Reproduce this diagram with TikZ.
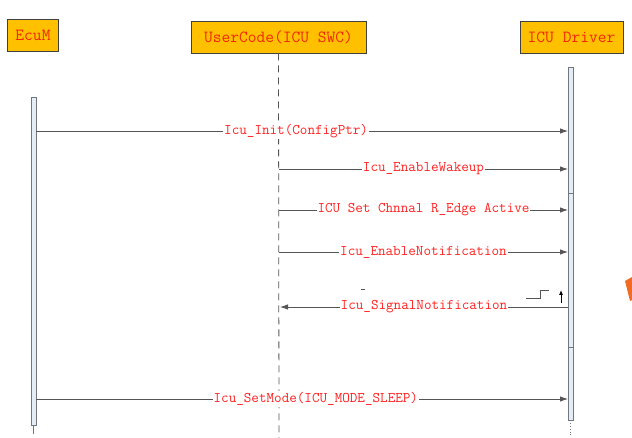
\documentclass[tikz,border=0pt]{standalone}
\usepackage{fontspec}
\usetikzlibrary{arrows.meta}
\definecolor{boxfill}{HTML}{FFC000}
\definecolor{boxtext}{HTML}{F02800}
\definecolor{lbltext}{HTML}{FF2020}
\definecolor{linegray}{HTML}{555555}
\definecolor{barfill}{HTML}{E6ECF4}
\definecolor{bardraw}{HTML}{707780}
\definecolor{orangeshape}{HTML}{F26B22}
\begin{document}
\begin{tikzpicture}[x=1pt,y=-1pt,
  actor/.style={draw=black!75, line width=0.7pt, fill=boxfill, text=boxtext,
    font=\fontsize{17}{17}\selectfont\ttfamily, inner sep=0pt, minimum height=32pt},
  actbar/.style={draw=bardraw, line width=0.8pt, fill=barfill, minimum width=5pt, inner sep=0pt},
  msg/.style={draw=linegray, line width=0.8pt},
  arr/.style={msg, -{Latex[length=8pt,width=5.5pt]}},
  lbl/.style={fill=white, text=lbltext, inner sep=1pt,
    font=\fontsize{14.7}{15}\selectfont\ttfamily}]
\useasboundingbox (0,0) rectangle (632,438);

% actors
\node[actor, minimum width=51pt] (ecum) at (33,35.5) {EcuM};
\node[actor, minimum width=175pt] (user) at (278.5,37) {UserCode(ICU SWC)};
\node[actor, minimum width=103pt] (icu) at (571.5,37) {ICU Driver};

% lifelines
\coordinate (userend) at (279,438);
\draw[linegray, line width=0.8pt, dash pattern=on 7pt off 5pt] (user.south) -- (userend);

% activation bars
\node[actbar, minimum height=328pt] (ecumbar) at (33.5,261) {};
\node[actbar, minimum height=353pt] (icubar) at (570.5,243.5) {};
\coordinate (ecumtail) at (33.5,434);
\coordinate (icutail) at (570.5,437);
\draw[bardraw, line width=0.8pt] (ecumbar.south) -- (ecumtail);
\draw[bardraw, line width=0.8pt, dotted] (icubar.south) -- (icutail);
\draw[bardraw, line width=0.8pt] (icubar.west |- 0,193) -- (icubar.east |- 0,193);
\draw[bardraw, line width=0.8pt] (icubar.west |- 0,347) -- (icubar.east |- 0,347);

% message end points
\coordinate (m1s) at (36,131);   \coordinate (m1e) at (568,131);
\coordinate (m2s) at (279,169);  \coordinate (m2e) at (568,169);
\coordinate (m3s) at (279,210);  \coordinate (m3e) at (568,210);
\coordinate (m4s) at (279,252);  \coordinate (m4e) at (568,252);
\coordinate (m5s) at (568,307);  \coordinate (m5e) at (280,307);
\coordinate (m6s) at (36,399);   \coordinate (m6e) at (568,399);

\draw[arr] (m1s) -- node[lbl, pos=0.489] {Icu\_Init(ConfigPtr)} (m1e);
\draw[arr] (m2s) -- node[lbl] {Icu\_EnableWakeup} (m2e);
\draw[arr] (m3s) -- node[lbl] {ICU Set Chnnal R\_Edge Active} (m3e);
\draw[arr] (m4s) -- node[lbl] {Icu\_EnableNotification} (m4e);
\draw[arr] (m5s) -- node[lbl, pos=0.5] {Icu\_SignalNotification} (m5e);
\draw[arr] (m6s) -- node[lbl, pos=0.526] {Icu\_SetMode(ICU\_MODE\_SLEEP)} (m6e);

% rising edge symbol and up arrow
\coordinate (e1) at (526,298); \coordinate (e2) at (540,298);
\coordinate (e3) at (540,290.5); \coordinate (e4) at (549,290.5);
\draw[linegray, line width=0.8pt] (e1) -- (e2) -- (e3) -- (e4);
\coordinate (ua) at (561,303); \coordinate (ub) at (561,290);
\draw[black, line width=0.8pt, -{Latex[length=5pt,width=4pt]}] (ua) -- (ub);

% small stray mark
\coordinate (d1) at (361,289.5); \coordinate (d2) at (365,289.5);
\draw[linegray, line width=0.7pt] (d1) -- (d2);

% partial orange shape at right edge
\fill[orangeshape] (625,281) -- (632,277) -- (632,300) -- (630,301) -- cycle;
\end{tikzpicture}
\end{document}
